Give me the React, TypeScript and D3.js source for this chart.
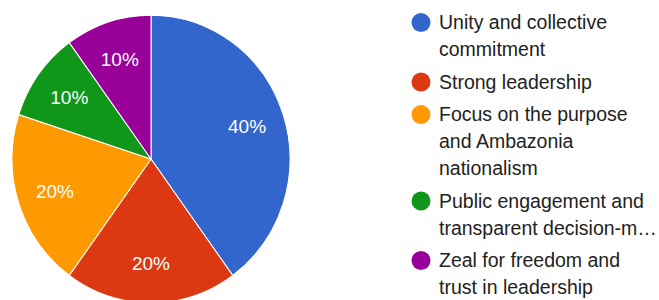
import React from "react";
import * as d3 from "d3";

// answer shares (percent)
const categories = [
  "Unity and collective commitment",
  "Strong leadership",
  "Focus on the purpose and Ambazonia nationalism",
  "Public engagement and transparent decision-making",
  "Zeal for freedom and trust in leadership",
];
const values = [40, 20, 20, 10, 10];
// legend lines as wrapped in the picture
const legendLines = [
  ["Unity and collective", "commitment"],
  ["Strong leadership"],
  ["Focus on the purpose", "and Ambazonia", "nationalism"],
  ["Public engagement and", "transparent decision-m…"],
  ["Zeal for freedom and", "trust in leadership"],
];
const colors = ["#3366cc", "#dc3912", "#ff9900", "#109618", "#990099"];

const W = 659;
const H = 300;
const cx = 151;
const cy = 159;
const r = 139;
const sy = 1.035; // picture is a bit taller than wide
const labelR = 101;

const App = () => {
  const pie = d3
    .pie<number>()
    .sort(null)
    .value((d) => d);
  const arcs = pie(values);
  const arc = d3.arc<d3.PieArcDatum<number>>().innerRadius(0).outerRadius(r);
  const labelArc = d3
    .arc<d3.PieArcDatum<number>>()
    .innerRadius(labelR)
    .outerRadius(labelR);
  const total = d3.sum(values);

  // legend layout
  const lineH = 27;
  const entryGap = 32.5;
  let base = 29;
  const legend = legendLines.map((lines, i) => {
    const y0 = base;
    base = y0 + (lines.length - 1) * lineH + entryGap;
    return { lines, y0, color: colors[i], name: categories[i] };
  });

  return (
    <svg
      width={W}
      height={H}
      style={{ position: "absolute", left: 0, top: 0, background: "#fff" }}
      fontFamily="'Liberation Sans', Arial, sans-serif"
    >
      <g transform={`translate(${cx},${cy}) scale(1,${sy})`}>
        {arcs.map((a, i) => (
          <path
            key={i}
            d={arc(a) || ""}
            fill={colors[i]}
            stroke="#fff"
            strokeWidth={1}
          />
        ))}
      </g>
      {arcs.map((a, i) => {
        const [lx, ly] = labelArc.centroid(a);
        return (
          <text
            key={i}
            x={cx + lx}
            y={cy + ly * sy}
            dy="0.35em"
            textAnchor="middle"
            fill="#fff"
            fontSize={19}
          >
            {Math.round((a.data / total) * 100)}%
          </text>
        );
      })}
      {legend.map((e, i) => (
        <g key={i}>
          <circle cx={421} cy={e.y0 - 6.5} r={9.5} fill={e.color} />
          <text fill="#222" fontSize={19.5}>
            {e.lines.map((t, j) => (
              <tspan key={j} x={439} y={e.y0 + j * lineH}>
                {t}
              </tspan>
            ))}
          </text>
        </g>
      ))}
    </svg>
  );
};

export default App;
